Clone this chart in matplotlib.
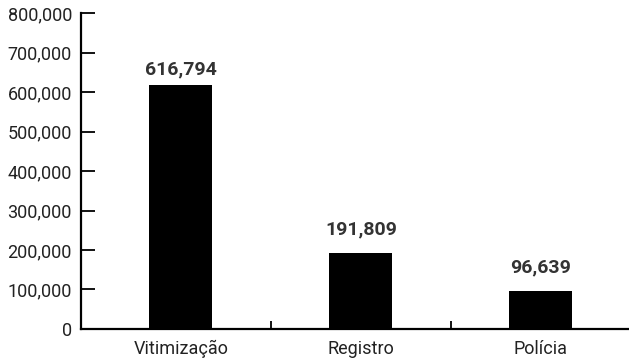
import matplotlib.pyplot as plt
from matplotlib.ticker import FuncFormatter

categorias = ['Vitimização', 'Registro', 'Polícia']
valores = [616794, 191809, 96639]
# distância (em pontos) entre o topo da barra e o rótulo
desloc_rotulos = [5, 11, 10.5]

plt.rcParams['font.family'] = ['Roboto', 'DejaVu Sans']

fig = plt.figure(figsize=(6.29, 3.62), dpi=100)
ax = fig.add_axes([0.1288, 0.0912, 0.8712, 0.8728])

x = list(range(len(categorias)))
ax.bar(x, valores, width=0.35, color='black')

for xi, v, d in zip(x, valores, desloc_rotulos):
    ax.annotate(f'{v:,}', (xi, v), xytext=(0, d), textcoords='offset points',
                ha='center', va='bottom', fontsize=14, fontweight='bold', color='#333333')

ax.set_xlim(-0.555, 2.49)
ax.set_ylim(0, 800000)
ax.set_yticks(range(0, 800001, 100000))
ax.yaxis.set_major_formatter(FuncFormatter(lambda v, p: f'{int(v):,}'))
ax.set_xticks(x)
ax.set_xticklabels(categorias)
ax.set_xticks([0.5, 1.5], minor=True)

for s in ['top', 'right']:
    ax.spines[s].set_visible(False)
for s in ['left', 'bottom']:
    ax.spines[s].set_linewidth(1.6)

ax.tick_params(axis='y', direction='in', length=10, width=1.3, labelsize=13, pad=6.5,
               colors='black', labelcolor='#222222')
ax.tick_params(axis='x', which='major', length=0, labelsize=13, pad=8, labelcolor='#222222')
ax.tick_params(axis='x', which='minor', direction='in', length=6, width=1.3)

fig.savefig('out.png', dpi=100)
